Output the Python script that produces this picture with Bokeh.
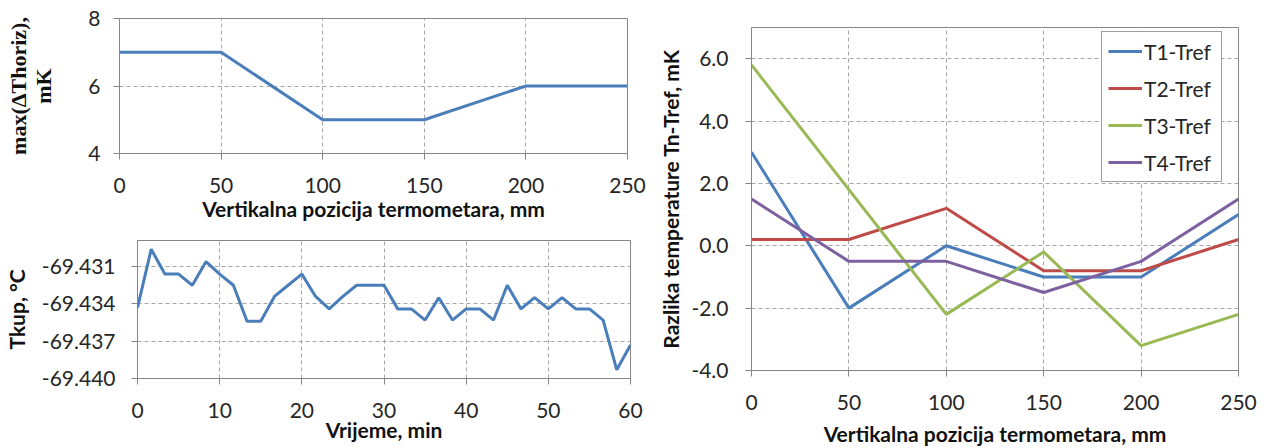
from bokeh.plotting import figure
from bokeh.layouts import row, column
from bokeh.models import (FixedTicker, PrintfTickFormatter, Range1d, Legend,
                          LegendItem, LinearAxis)
from bokeh.embed import file_html
from bokeh.resources import INLINE

# ---- data ----
pos_mm = [0, 50, 100, 150, 200, 250]
max_dthoriz = [7, 7, 5, 5, 6, 6]

time_min = [0.0, 1.67, 3.33, 5.0, 6.67, 8.33, 10.0, 11.67, 13.33, 15.0,
            16.67, 18.33, 20.0, 21.67, 23.33, 25.0, 26.67, 28.33, 30.0,
            31.67, 33.33, 35.0, 36.67, 38.33, 40.0, 41.67, 43.33, 45.0,
            46.67, 48.33, 50.0, 51.67, 53.33, 55.0, 56.67, 58.33, 60.0]
tkup = [-69.4343, -69.4296, -69.4316, -69.4316, -69.4325, -69.4306, -69.4316,
        -69.4325, -69.4354, -69.4354, -69.4334, -69.4325, -69.4316, -69.4334,
        -69.4344, -69.4334, -69.4325, -69.4325, -69.4325, -69.4344, -69.4344,
        -69.4353, -69.4335, -69.4353, -69.4344, -69.4344, -69.4353, -69.4325,
        -69.4344, -69.4335, -69.4344, -69.4335, -69.4344, -69.4344, -69.4353,
        -69.4393, -69.4373]

t1_tref = [3.0, -2.0, 0.0, -1.0, -1.0, 1.0]
t2_tref = [0.2, 0.2, 1.2, -0.8, -0.8, 0.2]
t3_tref = [5.8, 1.8, -2.2, -0.2, -3.2, -2.2]
t4_tref = [1.5, -0.5, -0.5, -1.5, -0.5, 1.5]
series_names = ["T1-Tref", "T2-Tref", "T3-Tref", "T4-Tref"]
series_colors = ["#4A7EBB", "#BE4B48", "#98B954", "#7D60A0"]

x_ticks_mm = [0, 50, 100, 150, 200, 250]
y_ticks_1 = [4, 6, 8]
x_ticks_time = [0, 10, 20, 30, 40, 50, 60]
y_ticks_2 = [-69.440, -69.437, -69.434, -69.431]
y_ticks_3 = [-4, -2, 0, 2, 4, 6]

FONT = "Lato"
AXIS_COL = "#868686"
GRID_COL = "#A6A6A6"
TXT = "#262626"


def style(p, xt, yt):
    p.outline_line_color = AXIS_COL
    p.outline_line_width = 1
    p.background_fill_color = "white"
    p.border_fill_color = "white"
    for ax in p.axis:
        ax.axis_line_color = AXIS_COL
        ax.major_tick_line_color = AXIS_COL
        ax.major_tick_in = 0
        ax.major_tick_out = 6
        ax.minor_tick_line_color = None
        ax.major_label_text_font = FONT
        ax.major_label_text_font_size = "21px"
        ax.major_label_text_color = TXT
        ax.axis_label_text_font = FONT
        ax.axis_label_text_font_style = "bold"
        ax.axis_label_text_font_size = "21px"
        ax.axis_label_text_color = "#111111"
    p.xaxis.ticker = FixedTicker(ticks=xt)
    p.yaxis.ticker = FixedTicker(ticks=yt)
    p.xgrid.ticker = FixedTicker(ticks=xt)
    p.ygrid.ticker = FixedTicker(ticks=yt)
    for g in (p.xgrid, p.ygrid):
        g.grid_line_color = GRID_COL
        g.grid_line_dash = "4 3"
        g.grid_line_width = 1


# ---- top-left ----
p1 = figure(width=648, height=231, output_backend="svg", toolbar_location=None,
            x_range=Range1d(0, 250), y_range=Range1d(4, 8))
p1.min_border_left = 119
p1.min_border_right = 21
p1.min_border_top = 18
p1.min_border_bottom = 78
p1.line(pos_mm, max_dthoriz, line_color="#4A7EBB", line_width=3)
style(p1, x_ticks_mm, y_ticks_1)
p1.xaxis.axis_label = "Vertikalna pozicija termometara, mm"
p1.xaxis.major_label_standoff = 18
p1.xaxis.axis_label_standoff = 0
p1.yaxis.axis_label = "mK"
p1.yaxis.axis_label_text_font = "Liberation Serif"
p1.yaxis.axis_label_text_font_size = "22px"
p1.yaxis.major_label_standoff = 13
p1.yaxis.axis_label_standoff = 29
outer = LinearAxis(axis_label="max(\u0394Thoriz),", ticker=FixedTicker(ticks=[]),
                   axis_line_color=None, major_tick_line_color=None,
                   minor_tick_line_color=None, major_tick_out=0, major_tick_in=0,
                   major_label_standoff=0, axis_label_standoff=-2,
                   axis_label_text_font="Liberation Serif",
                   axis_label_text_font_style="bold",
                   axis_label_text_font_size="22px",
                   axis_label_text_color="#111111")
p1.add_layout(outer, "left")

# ---- bottom-left ----
p2 = figure(width=648, height=217, output_backend="svg", toolbar_location=None,
            x_range=Range1d(0, 60), y_range=Range1d(-69.440, -69.4289))
p2.min_border_left = 137
p2.min_border_right = 18
p2.min_border_top = 9
p2.min_border_bottom = 70
p2.line(time_min, tkup, line_color="#4A7EBB", line_width=3)
style(p2, x_ticks_time, y_ticks_2)
p2.yaxis.formatter = PrintfTickFormatter(format="%.3f")
p2.xaxis.axis_label = "Vrijeme, min"
p2.xaxis.major_label_standoff = 18
p2.xaxis.axis_label_standoff = -4
p2.yaxis.axis_label = "Tkup, \u00b0C"
p2.yaxis.major_label_standoff = 16
p2.yaxis.axis_label_standoff = 10

# ---- right ----
p3 = figure(width=625, height=448, output_backend="svg", toolbar_location=None,
            x_range=Range1d(0, 250), y_range=Range1d(-4, 7))
p3.min_border_left = 103
p3.min_border_right = 35
p3.min_border_top = 27
p3.min_border_bottom = 76
style(p3, x_ticks_mm, y_ticks_3)
p3.yaxis.formatter = PrintfTickFormatter(format="%.1f")
items = []
for name, col, ys in zip(series_names, series_colors, [t1_tref, t2_tref, t3_tref, t4_tref]):
    r = p3.line(pos_mm, ys, line_color=col, line_width=3)
    items.append(LegendItem(label=name, renderers=[r]))
leg = Legend(items=items, location=(350, 188), padding=6, spacing=11,
             glyph_width=34, glyph_height=26, label_height=26, label_width=71,
             label_standoff=2, margin=0, border_line_color="#404040",
             border_line_width=1, label_text_font=FONT, label_text_font_size="21px",
             label_text_color=TXT, background_fill_color="white", background_fill_alpha=1)
p3.add_layout(leg, "center")
p3.xaxis.axis_label = "Vertikalna pozicija termometara, mm"
p3.xaxis.major_label_standoff = 18
p3.xaxis.axis_label_standoff = 8
p3.yaxis.axis_label = "Razlika temperature Tn-Tref, mK"
p3.yaxis.major_label_standoff = 17
p3.yaxis.axis_label_standoff = 5

layout = row(column(row(p1), row(p2)), p3)
open("out.html", "w").write(file_html(layout, INLINE))
